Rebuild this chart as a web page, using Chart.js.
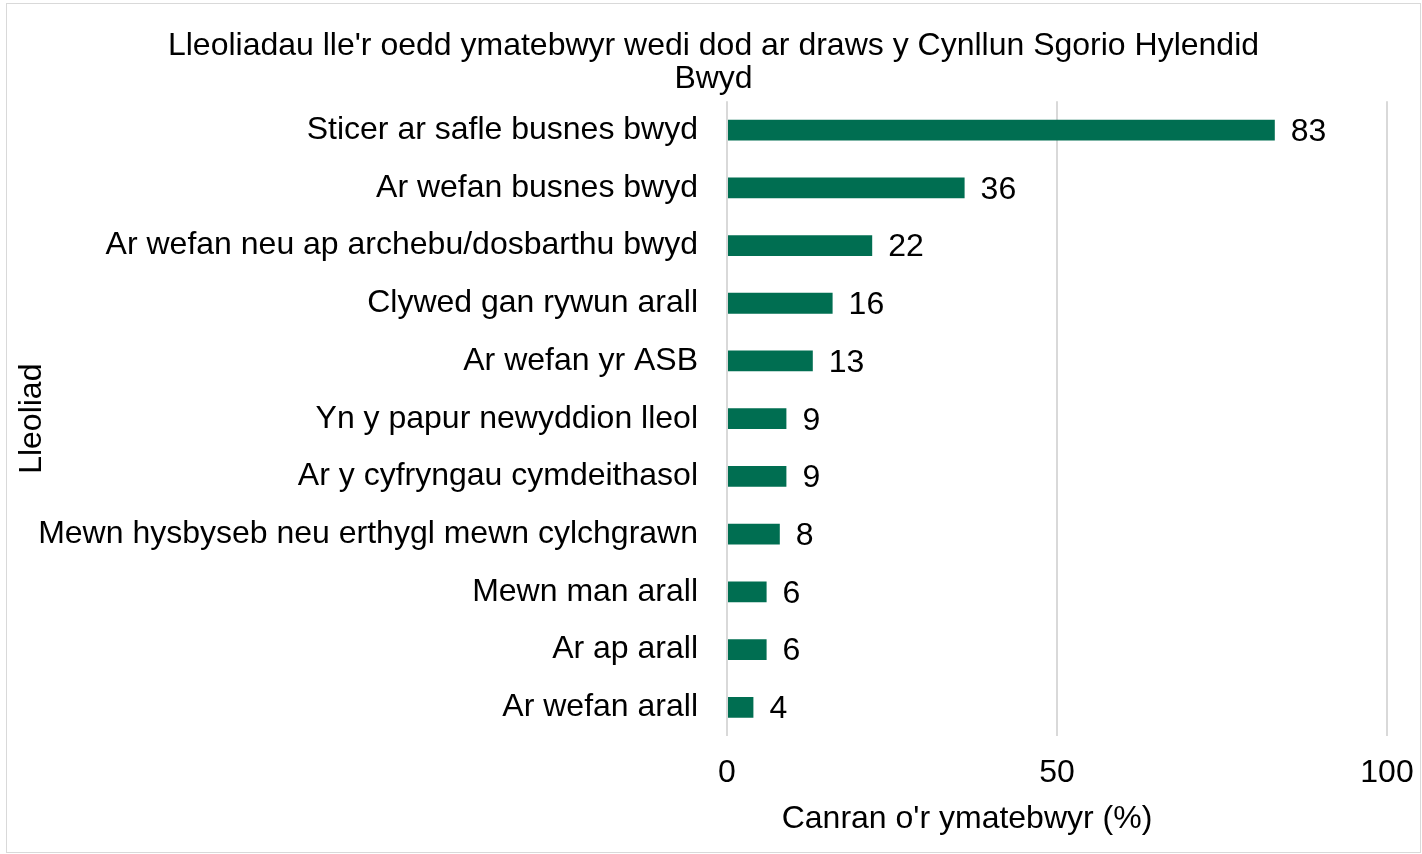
<!DOCTYPE html>
<html>
<head>
<meta charset="utf-8">
<script src="https://cdn.jsdelivr.net/npm/chart.js@4"></script>
<style>
    body { margin: 0; background: #fff; }
    #wrap {
        position: absolute; left: 6px; top: 3px;
        width: 1413px; height: 848px;
        border: 1px solid #d9d9d9;
    }
</style>
</head>
<body>
<div id="wrap"><canvas id="chart"></canvas></div>
<script>
const categories = [
    'Sticer ar safle busnes bwyd',
    'Ar wefan busnes bwyd',
    'Ar wefan neu ap archebu/dosbarthu bwyd',
    'Clywed gan rywun arall',
    'Ar wefan yr ASB',
    'Yn y papur newyddion lleol',
    'Ar y cyfryngau cymdeithasol',
    'Mewn hysbyseb neu erthygl mewn cylchgrawn',
    'Mewn man arall',
    'Ar ap arall',
    'Ar wefan arall'
];
const values = [83, 36, 22, 16, 13, 9, 9, 8, 6, 6, 4];
const titleLines = ["Lleoliadau lle'r oedd ymatebwyr wedi dod ar draws y Cynllun Sgorio Hylendid", 'Bwyd'];
const xTitle = "Canran o'r ymatebwyr (%)";
const yTitle = 'Lleoliad';

const FONT = "'Liberation Sans', Arial, sans-serif";
const SIZE = 32;
Chart.defaults.font.family = FONT;
Chart.defaults.color = '#000';

// labels next to each bar, plus the x title (sits left of the plot centre in the original)
const valueLabels = {
    id: 'valueLabels',
    afterDatasetsDraw(chart) {
        const ctx = chart.ctx;
        const meta = chart.getDatasetMeta(0);
        ctx.save();
        ctx.font = SIZE + 'px ' + FONT;
        ctx.fillStyle = '#000';
        ctx.textAlign = 'left';
        ctx.textBaseline = 'middle';
        meta.data.forEach((bar, i) => {
            ctx.fillText(String(values[i]), bar.x + 16, bar.y + 2);
        });
        const xs = chart.scales.x;
        ctx.textAlign = 'center';
        ctx.fillText(xTitle, (xs.left + xs.right) / 2 - 90, xs.bottom - 0.55 * SIZE);
        ctx.restore();
    }
};

new Chart(document.getElementById('chart').getContext('2d'), {
    type: 'bar',
    data: {
        labels: categories,
        datasets: [{
            data: values,
            backgroundColor: '#006e51',
            barPercentage: 0.36,
            categoryPercentage: 1
        }]
    },
    plugins: [valueLabels],
    options: {
        indexAxis: 'y',
        responsive: true,
        maintainAspectRatio: false,
        animation: false,
        layout: { padding: { left: 6, right: 6, top: 10, bottom: 15 } },
        plugins: {
            legend: { display: false },
            tooltip: { enabled: false },
            title: {
                display: true,
                text: titleLines,
                font: { size: SIZE, weight: 'normal', lineHeight: 1.05 },
                padding: { top: 15, bottom: 5 }
            }
        },
        scales: {
            x: {
                min: 0,
                max: 100,
                ticks: { stepSize: 50, font: { size: SIZE }, padding: 18 },
                grid: { color: '#d9d9d9', lineWidth: 2, drawTicks: false },
                border: { display: false },
                // space kept here, text drawn by the plugin
                title: { display: true, text: xTitle, color: 'rgba(0,0,0,0)', font: { size: SIZE }, padding: { top: -12, bottom: 0 } },
                afterFit(scale) {
                    scale.paddingRight = 33;
                }
            },
            y: {
                ticks: { font: { size: SIZE }, padding: 29 },
                grid: { display: false, drawTicks: false },
                border: { display: false },
                title: { display: true, text: yTitle, font: { size: SIZE }, padding: { top: 0, bottom: 0 } },
                afterFit(scale) {
                    scale.width = 714;
                }
            }
        }
    }
});
</script>
</body>
</html>
